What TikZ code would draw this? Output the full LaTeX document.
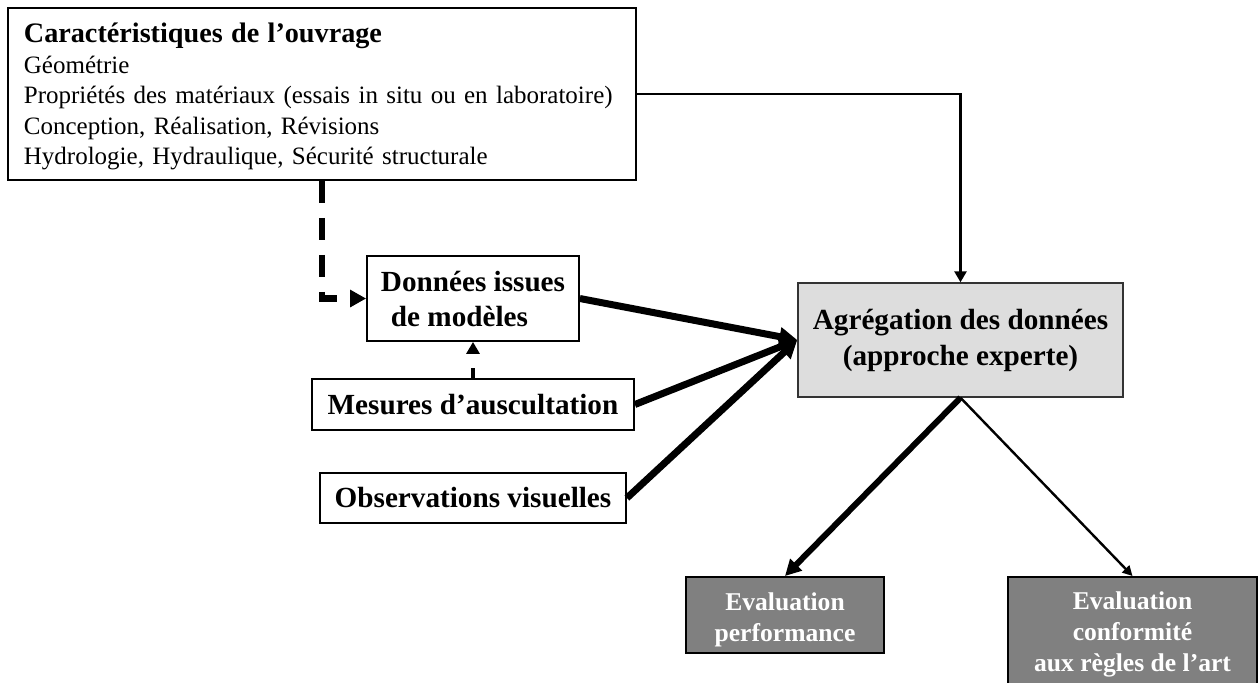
\documentclass[tikz,border=0pt]{standalone}
\usepackage{fontspec}
\setmainfont{Liberation Serif}
\usetikzlibrary{arrows.meta}
\definecolor{aggfill}{HTML}{DDDDDD}
\definecolor{evalfill}{HTML}{808080}
\definecolor{aggline}{HTML}{333333}
% invisible strut of a given height, used to place the first line of a node
\newcommand\topstrut[1]{\rule{0pt}{#1}}
\begin{document}
\begin{tikzpicture}[x=0.5pt,y=-0.5pt,
  box/.style={draw=black, line width=0.9pt, fill=white, inner sep=0pt},
  boldtext/.style={font=\fontsize{14.6}{17.5}\selectfont\bfseries},
  aggbox/.style={draw=aggline, line width=0.7pt, fill=aggfill, inner sep=0pt,
    align=center, font=\fontsize{14.6}{18}\selectfont\bfseries},
  evalbox/.style={draw=black, line width=1pt, fill=evalfill, text=white, inner sep=0pt,
    align=center, font=\fontsize{12.8}{15.5}\selectfont\bfseries},
  thinarrow/.style={line width=1.3pt, -{Triangle[length=5.5pt,width=6pt]}},
  thickarrow/.style={line width=3.5pt, -{Triangle[length=9pt,width=9pt]}},
  dasharrow/.style={line width=3.3pt, dash pattern=on 11pt off 7.5pt,
    -{Triangle[length=8pt,width=8.3pt]}},
  shortdash/.style={line width=2.2pt, dash pattern=on 5pt off 8pt,
    -{Triangle[length=6pt,width=6.5pt]}},
]
\useasboundingbox (0,0) rectangle (1258,682);

% structure characteristics
\node[box, anchor=north west, text width=298pt, inner xsep=8pt, minimum height=86pt,
  align=left, font=\fontsize{12.5}{15.25}\selectfont] (ouvrage) at (7,7)
  {{\fontsize{14.1}{15.25}\selectfont\bfseries\topstrut{12.7pt}Caractéristiques de l’ouvrage}\\
   Géométrie\\
   Propriétés des matériaux (essais in situ ou en laboratoire)\\
   Conception, Réalisation, Révisions\\
   Hydrologie, Hydraulique, Sécurité structurale};

% input data
\node[box, boldtext, align=left, minimum width=106pt, minimum height=42.5pt]
  (modeles) at (473,298.5) {Données issues\\\hspace*{5pt}de modèles};
\node[box, boldtext, minimum width=161pt, minimum height=25.5pt]
  (mesures) at (473,404.5) {Mesures d’auscultation};
\node[box, boldtext, minimum width=153pt, minimum height=25pt]
  (observ) at (473,498) {Observations visuelles};

% aggregation
\node[aggbox, minimum width=162.5pt, minimum height=57pt]
  (agreg) at (960.5,340) {Agrégation des données\\(approche experte)};

% evaluations
\node[evalbox, minimum width=99pt, minimum height=38pt]
  (perf) at (785,615) {\topstrut{13.3pt}Evaluation\\performance};
\node[evalbox, minimum width=124.5pt, minimum height=56.5pt]
  (conf) at (1132.5,633.5) {\topstrut{10.3pt}Evaluation\\conformité\\aux règles de l’art};

% connectors
\draw[thinarrow] (ouvrage.east) -| (agreg.north);
\draw[dasharrow] (ouvrage.south) |- (modeles.west);
\draw[shortdash] (mesures.north) -- (modeles.south);
\draw[thickarrow] (modeles.east) -- (agreg.west);
\draw[thickarrow] (mesures.east) -- (agreg.west);
\draw[thickarrow] (observ.east) -- (agreg.west);
\draw[line width=3pt, -{Triangle[length=8pt,width=8pt]}] (agreg.south) -- (perf.north);
\draw[line width=1.2pt, -{Triangle[length=5pt,width=5pt]}] (agreg.south) -- (conf.north);
\end{tikzpicture}
\end{document}
